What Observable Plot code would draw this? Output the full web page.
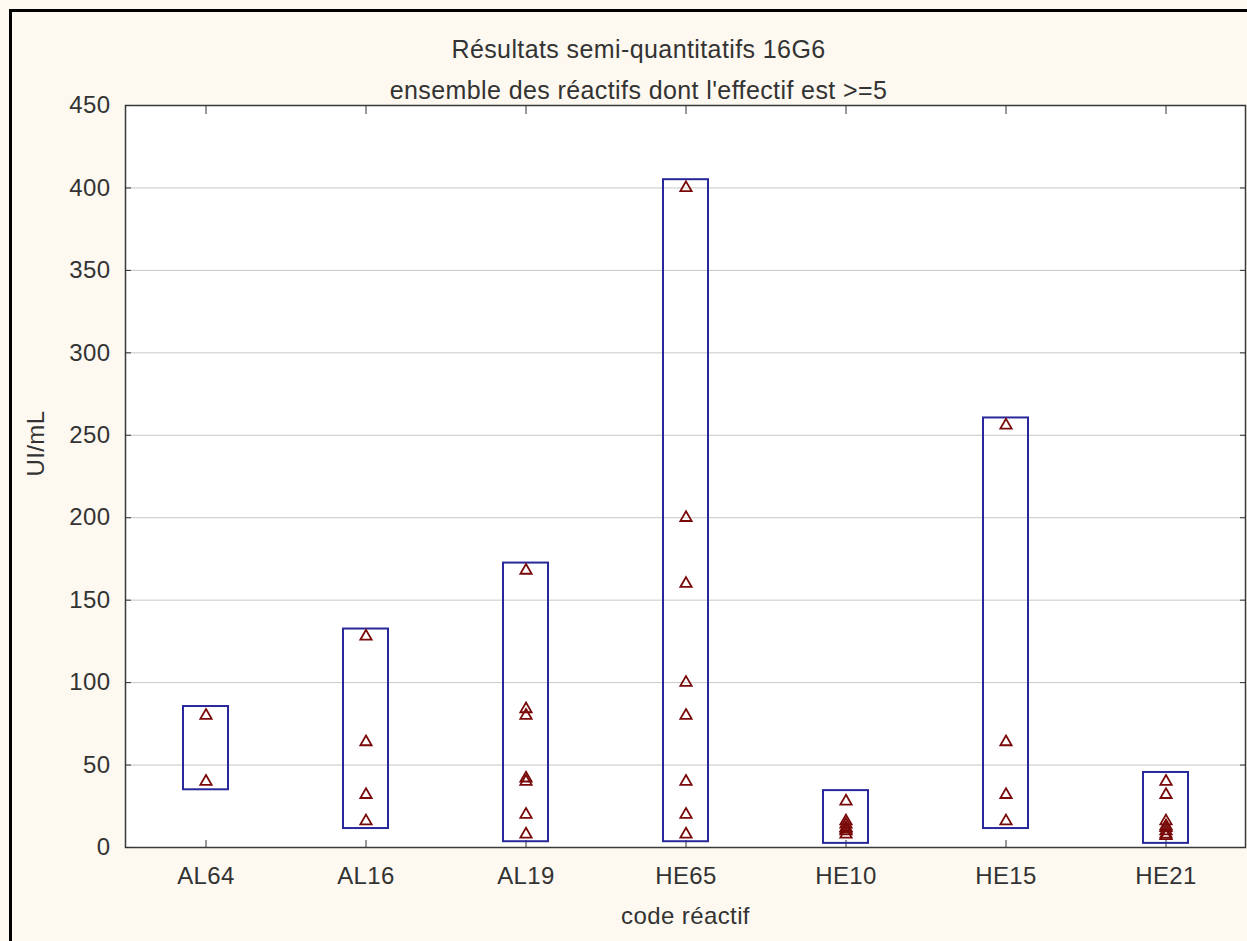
<!DOCTYPE html>
<html>
<head>
<meta charset="utf-8">
<script src="https://cdn.jsdelivr.net/npm/d3@7"></script>
<script src="https://cdn.jsdelivr.net/npm/@observablehq/plot@0.6"></script>
<style>
  html, body { margin: 0; padding: 0; background: #fdf9f0; }
  #wrap { position: relative; width: 1247px; height: 941px; overflow: hidden; }
  #border { position: absolute; left: 9px; top: 9px; width: 1300px; height: 1000px;
            border-left: 3px solid #000; border-top: 3px solid #000; }
  #chart { position: absolute; left: 0; top: 0; }
</style>
</head>
<body>
<div id="wrap"><div id="border"></div><div id="chart"></div></div>
<script>
// ---- data ----
const categories = ["AL64", "AL16", "AL19", "HE65", "HE10", "HE15", "HE21"];
const valuesAL64 = [80, 40];
const valuesAL16 = [128, 64, 32, 16];
const valuesAL19 = [168, 84, 80, 42, 40, 20, 8];
const valuesHE65 = [400, 200, 160, 100, 80, 40, 20, 8];
const valuesHE10 = [28, 16, 14, 12, 11, 10, 8];
const valuesHE15 = [256, 64, 32, 16];
const valuesHE21 = [40, 32, 16, 13, 12, 10, 8, 7];
const boxLow  = [35, 11.5, 3.5, 3.5, 2.5, 11.5, 2.5];
const boxHigh = [85.5, 132.5, 172.5, 405, 34.5, 260.5, 45.5];
const yTicks = [0, 50, 100, 150, 200, 250, 300, 350, 400, 450];
const title1 = "Résultats semi-quantitatifs 16G6";
const title2 = "ensemble des réactifs dont l'effectif est >=5";
const xLabel = "code réactif";
const yLabel = "UI/mL";

// ---- tables built from the arrays ----
const series = [valuesAL64, valuesAL16, valuesAL19, valuesHE65, valuesHE10, valuesHE15, valuesHE21];
const points = series.flatMap((vals, i) => vals.map(v => ({cat: categories[i], v})));
const boxes = categories.map((c, i) => ({cat: c, lo: boxLow[i], hi: boxHigh[i]}));

const font = "'Liberation Sans', Arial, sans-serif";
const ink = "#333333";

const chart = Plot.plot({
  width: 1247,
  height: 941,
  marginLeft: 125,
  marginRight: 2,
  marginTop: 105,
  marginBottom: 94,
  style: {background: "transparent", fontFamily: font, color: ink, letterSpacing: "0.4px"},
  x: {type: "band", domain: categories, paddingInner: 0.72, paddingOuter: 0.36, label: null},
  y: {domain: [0, 450], ticks: yTicks, label: null},
  marks: [
    Plot.frame({fill: "white", stroke: "none"}),
    Plot.gridY(yTicks, {stroke: "#c8c8c8", strokeOpacity: 1}),
    Plot.frame({stroke: "#3a3a3a", strokeWidth: 1.5}),
    Plot.axisY(yTicks, {anchor: "left", tickSize: -6, tickPadding: 21, fontSize: 24, label: null, stroke: "#333"}),
    Plot.axisY(yTicks, {anchor: "right", tickSize: -6, tickFormat: () => "", label: null, stroke: "#333"}),
    Plot.axisX({anchor: "bottom", tickSize: -7, tickPadding: 26, fontSize: 24, label: null, stroke: "#333"}),
    Plot.axisX({anchor: "top", tickSize: -8, tickFormat: () => "", label: null, stroke: "#333"}),
    Plot.barY(boxes, {x: "cat", y1: "lo", y2: "hi", fill: "none", stroke: "#28289a", strokeWidth: 2}),
    Plot.dot(points, {x: "cat", y: "v", symbol: "triangle", r: 4.2, fill: "none", stroke: "#7a0a0a", strokeWidth: 1.8}),
    Plot.text([title1], {frameAnchor: "top", dx: -47, dy: -65, fontSize: 25, fill: ink}),
    Plot.text([title2], {frameAnchor: "top", dx: -47, dy: -24, fontSize: 25, fill: ink}),
    Plot.text([xLabel], {frameAnchor: "bottom", dy: 76, fontSize: 24, fill: ink}),
    Plot.text([yLabel], {frameAnchor: "left", dx: -89, rotate: -90, fontSize: 24, fill: ink})
  ]
});
document.getElementById("chart").appendChild(chart);
</script>
</body>
</html>
